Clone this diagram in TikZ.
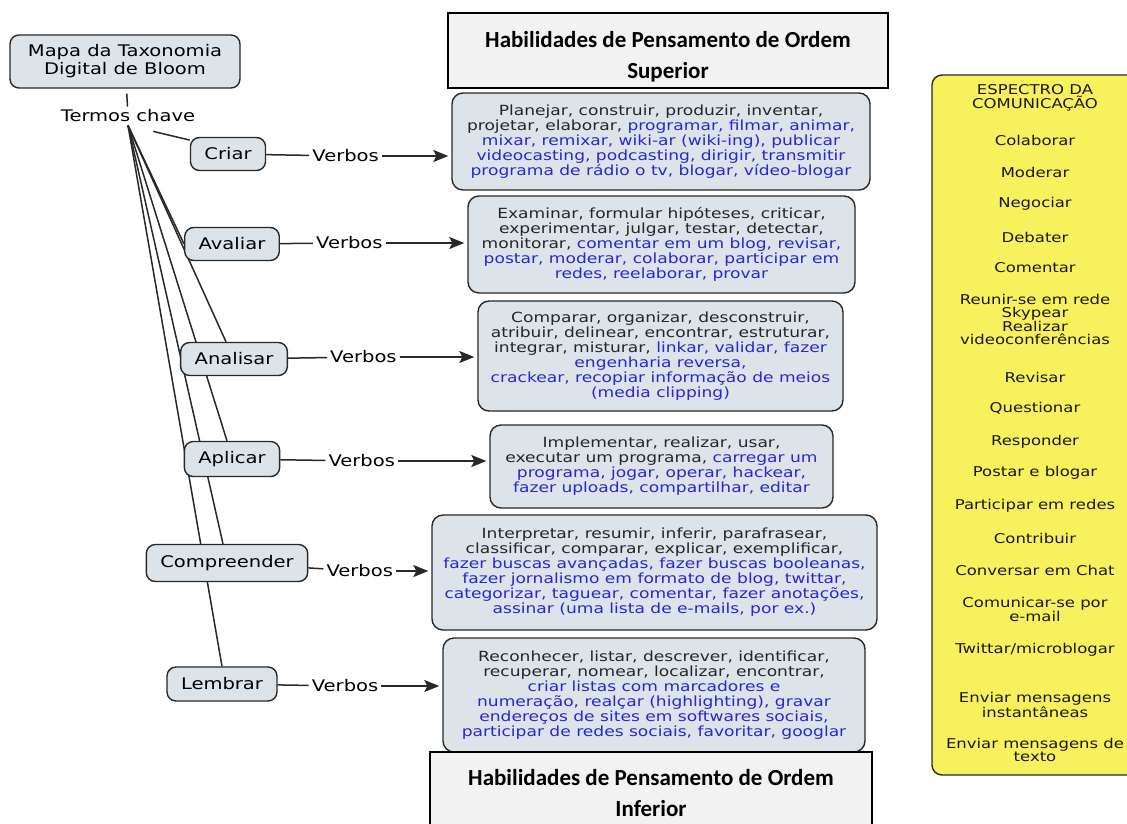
\documentclass[tikz,border=0pt]{standalone}
\usepackage{fontspec}
\setmainfont{DejaVu Sans}[FakeStretch=1.22]
\newfontfamily\headfont{Carlito}
\usepackage{xcolor}
\usepackage{tikz}
\usetikzlibrary{arrows.meta, positioning, backgrounds}

\definecolor{mapfill}{RGB}{220,228,233}
\definecolor{mapblue}{RGB}{40,40,205}
\definecolor{mapgray}{RGB}{40,40,40}
\definecolor{headfill}{RGB}{242,242,242}
\definecolor{specyellow}{RGB}{246,241,92}

\newcommand{\bl}[1]{\textcolor{mapblue}{#1}}

\begin{document}
\begin{tikzpicture}[x=1pt, y=-1pt]
\tikzstyle{concept} = [rectangle, draw=mapgray, line width=1.4pt, fill=mapfill, rounded corners=9pt, inner xsep=14pt, minimum height=33pt, font=\fontsize{16}{18}\selectfont, align=center]
\tikzstyle{verbbox} = [rectangle, draw=mapgray, line width=1.4pt, fill=mapfill, rounded corners=11pt, font=\fontsize{14}{15}\selectfont, align=center, text=black!85]
\tikzstyle{headbox} = [rectangle, draw=black, line width=1.8pt, fill=headfill, font=\headfont\bfseries\fontsize{23}{31}\selectfont, align=center]
\tikzstyle{headtext} = [font=\headfont\bfseries\fontsize{23}{31}\selectfont, align=center]
\tikzstyle{link} = [font=\fontsize{16}{18}\selectfont, inner sep=3pt]
\tikzstyle{line} = [mapgray, line width=1.5pt]
\tikzstyle{arrow} = [line, -{Stealth[length=15pt, width=12pt, inset=3pt]}, shorten >=3pt]
\tikzstyle{spectxt} = [font=\fontsize{13.5}{13.5}\selectfont, align=center, inner sep=0pt, text=black!90]

\useasboundingbox (0,0) rectangle (1127,823);

% root and key terms
\node (mapa) [concept, minimum width=230pt, minimum height=53pt] at (125,61.5) {Mapa da Taxonomia\\Digital de Bloom};
\node (termos) [link] at (128,116) {Termos chave};
\draw [line, shorten <=5pt] (mapa) -- (termos);

\node (criar) [concept] at (228,154) {Criar};
\node (avaliar) [concept] at (232,244) {Avaliar};
\node (analisar) [concept] at (234,359) {Analisar};
\node (aplicar) [concept, minimum height=35pt] at (232,459) {Aplicar};
\node (compreender) [concept, minimum height=37pt] at (227,563) {Compreender};
\node (lembrar) [concept, minimum height=34pt] at (222,684) {Lembrar};

\begin{scope}[on background layer]
\draw [line, shorten <=26pt] (termos.south) -- (criar.160);
\draw [line] (termos.south) -- (avaliar.west);
\draw [line] (termos.south) -- ([xshift=-8pt]analisar.north);
\draw [line] (termos.south) -- ([xshift=-5pt]aplicar.north);
\draw [line] (termos.south) -- ([xshift=-4pt]compreender.north);
\draw [line] (termos.south) -- (lembrar.north);
\end{scope}

% verb boxes
\node (bxcriar) [verbbox, minimum width=418pt, minimum height=97pt] at (661,141.5) {Planejar, construir, produzir, inventar,\\
projetar, elaborar, \bl{programar, filmar, animar,}\\
\bl{mixar, remixar, wiki-ar (wiki-ing), publicar}\\
\bl{videocasting, podcasting, dirigir, transmitir}\\
\bl{programa de rádio o tv, blogar, vídeo-blogar}};
\node (bxavaliar) [verbbox, minimum width=387pt, minimum height=97pt] at (661.5,244.5) {Examinar, formular hipóteses, criticar,\\
experimentar, julgar, testar, detectar,\\
monitorar, \bl{comentar em um blog, revisar,}\\
\bl{postar, moderar, colaborar, participar em}\\
\bl{redes, reelaborar, provar}};
\node (bxanalisar) [verbbox, minimum width=365pt, minimum height=110pt] at (660.5,356) {Comparar, organizar, desconstruir,\\
atribuir, delinear, encontrar, estruturar,\\
integrar, misturar, \bl{linkar, validar, fazer}\\
\bl{engenharia reversa,}\\
\bl{crackear, recopiar informação de meios}\\
\bl{(media clipping)}};
\node (bxaplicar) [verbbox, minimum width=343pt, minimum height=83pt] at (661.5,466.5) {Implementar, realizar, usar,\\
executar um programa, \bl{carregar um}\\
\bl{programa, jogar, operar, hackear,}\\
\bl{fazer uploads, compartilhar, editar}};
\node (bxcompreender) [verbbox, minimum width=445pt, minimum height=115pt] at (654.5,572.5) {Interpretar, resumir, inferir, parafrasear,\\
classificar, comparar, explicar, exemplificar,\\
\bl{fazer buscas avançadas, fazer buscas booleanas,}\\
\bl{fazer jornalismo em formato de blog, twittar,}\\
\bl{categorizar, taguear, comentar, fazer anotações,}\\
\bl{assinar (uma lista de e-mails, por ex.)}};
\node (bxlembrar) [verbbox, minimum width=422pt, minimum height=114pt] at (654,695) {Reconhecer, listar, descrever, identificar,\\
recuperar, nomear, localizar, encontrar,\\
\bl{criar listas com marcadores e}\\
\bl{numeração, realçar (highlighting), gravar}\\
\bl{endereços de sites em softwares sociais,}\\
\bl{participar de redes sociais, favoritar, googlar}};

% linking phrases
\node (vbcriar) [link, right=43pt of criar, yshift=-2pt] {Verbos};
\node (vbavaliar) [link, right=33pt of avaliar, yshift=1pt] {Verbos};
\node (vbanalisar) [link, right=39pt of analisar, yshift=2pt] {Verbos};
\node (vbaplicar) [link, right=45pt of aplicar, yshift=-2pt] {Verbos};
\node (vbcompreender) [link, right=15pt of compreender, yshift=-8pt] {Verbos};
\node (vblembrar) [link, right=31pt of lembrar, yshift=-2pt] {Verbos};

\draw [line] (criar) -- (vbcriar);
\draw [arrow] (vbcriar) -- (vbcriar -| bxcriar.west);
\draw [line] (avaliar) -- (vbavaliar);
\draw [arrow] (vbavaliar) -- (vbavaliar -| bxavaliar.west);
\draw [line] (analisar) -- (vbanalisar);
\draw [arrow] (vbanalisar) -- (vbanalisar -| bxanalisar.west);
\draw [line] (aplicar) -- (vbaplicar);
\draw [arrow] (vbaplicar) -- (vbaplicar -| bxaplicar.west);
\draw [line] (compreender) -- (vbcompreender);
\draw [arrow] (vbcompreender) -- (vbcompreender -| bxcompreender.west);
\draw [line] (lembrar) -- (vblembrar);
\draw [arrow] (vblembrar) -- (vblembrar -| bxlembrar.west);

% headers
\node (superior) [headbox, minimum width=440pt, minimum height=75pt, label={[headtext, yshift=-6pt]center:Habilidades de Pensamento de Ordem\\Superior}] at (668,50.5) {};
\node (inferior) [headbox, minimum width=442pt, minimum height=81pt] at (651,792.5) {Habilidades de Pensamento de Ordem\\Inferior};

% communication spectrum
\node (espectro) [rectangle, draw=mapgray, line width=1.4pt, fill=specyellow, rounded corners=10pt, minimum width=212pt, minimum height=700pt] at (1038,425) {};
\foreach \y/\t [count=\i] in {98/{ESPECTRO DA\\COMUNICAÇÃO}, 140/{Colaborar}, 172/{Moderar}, 204/{Negociar}, 237/{Debater}, 268/{Comentar}, 319.5/{Reunir-se em rede\\Skypear\\Realizar\\videoconferências}, 377/{Revisar}, 408/{Questionar}, 442/{Responder}, 473/{Postar e blogar}, 506/{Participar em redes}, 538/{Contribuir}, 570/{Conversar em Chat}, 609.5/{Comunicar-se por\\e-mail}, 650/{Twittar/microblogar}, 705/{Enviar mensagens\\instantâneas}, 750/{Enviar mensagens de\\texto}}
  \node (sp\i) [spectxt] at (1035,\y) {\t};

\end{tikzpicture}
\end{document}
